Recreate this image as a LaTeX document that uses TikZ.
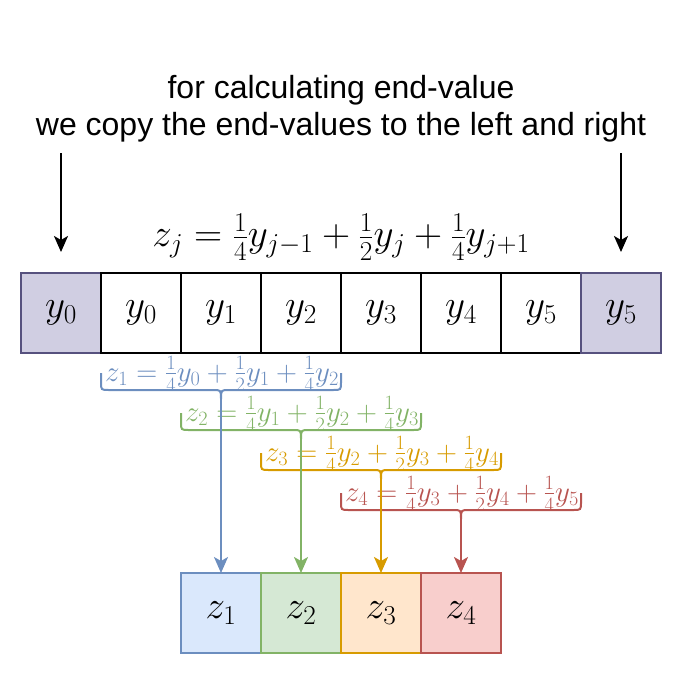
\documentclass[tikz,border=0pt]{standalone}
\usepackage{fix-cm}
\usepackage{amsmath}
\usepackage[no-math]{fontspec}
\setsansfont{Liberation Sans}
\usepackage{tikz}
\usetikzlibrary{positioning,arrows.meta}

\definecolor{endfill}{HTML}{D0CEE2}
\definecolor{enddraw}{HTML}{56517E}
\definecolor{zblue}{HTML}{6C8EBF}
\definecolor{zbluefill}{HTML}{DAE8FC}
\definecolor{zgreen}{HTML}{82B366}
\definecolor{zgreenfill}{HTML}{D5E8D4}
\definecolor{zorange}{HTML}{D79B00}
\definecolor{zorangefill}{HTML}{FFE6CC}
\definecolor{zred}{HTML}{B85450}
\definecolor{zredfill}{HTML}{F8CECC}

\tikzset{
  cell/.style={draw,minimum size=80pt,inner sep=0pt,outer sep=0pt,line width=1.5pt,
    font=\fontsize{39}{44}\selectfont},
  endcell/.style={cell,draw=enddraw,fill=endfill},
  brc/.style={line width=2pt},
  brclabel/.style={anchor=base west,inner sep=0pt,font=\fontsize{29}{33}\selectfont},
  arr/.style={-{Stealth[length=16pt,width=14pt,inset=4pt]},line width=2pt}
}

\begin{document}
\begin{tikzpicture}[x=1pt,y=-1pt]
    \useasboundingbox (0,0) rectangle (682,674);

    \node[font=\sffamily\fontsize{32}{37}\selectfont,align=center] (title) at (341,109)
        {for calculating end-value\\we copy the end-values to the left and right};
    \node[font=\fontsize{39}{44}\selectfont] (rule) at (341,237)
        {$z_j=\frac{1}{4}y_{j-1}+\frac{1}{2}y_j+\frac{1}{4}y_{j+1}$};

    % input row
    \node[endcell] (yl) at (61,313) {$y_0$};
    \node[cell,right=0pt of yl] (y0) {$y_0$};
    \node[cell,right=0pt of y0] (y1) {$y_1$};
    \node[cell,right=0pt of y1] (y2) {$y_2$};
    \node[cell,right=0pt of y2] (y3) {$y_3$};
    \node[cell,right=0pt of y3] (y4) {$y_4$};
    \node[cell,right=0pt of y4] (y5) {$y_5$};
    \node[endcell,right=0pt of y5] (yr) {$y_5$};

    \coordinate (al) at (61,153);
    \coordinate (alend) at (61,252);
    \coordinate (ar) at (621,153);
    \coordinate (arend) at (621,252);
    \draw[arr] (al)--(alend);
    \draw[arr] (ar)--(arend);

    % output row
    \node[cell,draw=zblue,fill=zbluefill] (z1) at (221,613) {$z_1$};
    \node[cell,draw=zgreen,fill=zgreenfill,right=0pt of z1] (z2) {$z_2$};
    \node[cell,draw=zorange,fill=zorangefill,right=0pt of z2] (z3) {$z_3$};
    \node[cell,draw=zred,fill=zredfill,right=0pt of z3] (z4) {$z_4$};

    % braces
    \draw[brc,zblue] (101,373)--(101,382) .. controls (101,390) .. (109,390)--(213,390)
        .. controls (221,390) .. (221,399) .. controls (221,390) .. (229,390)--(333,390)
        .. controls (341,390) .. (341,382)--(341,373);
    \coordinate (t1) at (221,399);
    \node[brclabel,zblue] (l1) at (105,381) {$z_1=\frac{1}{4}y_0+\frac{1}{2}y_1+\frac{1}{4}y_2$};

    \draw[brc,zgreen] (181,413)--(181,422) .. controls (181,430) .. (189,430)--(293,430)
        .. controls (301,430) .. (301,439) .. controls (301,430) .. (309,430)--(413,430)
        .. controls (421,430) .. (421,422)--(421,413);
    \coordinate (t2) at (301,439);
    \node[brclabel,zgreen] (l2) at (185,421) {$z_2=\frac{1}{4}y_1+\frac{1}{2}y_2+\frac{1}{4}y_3$};

    \draw[brc,zorange] (261,453)--(261,462) .. controls (261,470) .. (269,470)--(373,470)
        .. controls (381,470) .. (381,479) .. controls (381,470) .. (389,470)--(493,470)
        .. controls (501,470) .. (501,462)--(501,453);
    \coordinate (t3) at (381,479);
    \node[brclabel,zorange] (l3) at (265,461) {$z_3=\frac{1}{4}y_2+\frac{1}{2}y_3+\frac{1}{4}y_4$};

    \draw[brc,zred] (341,493)--(341,502) .. controls (341,510) .. (349,510)--(453,510)
        .. controls (461,510) .. (461,519) .. controls (461,510) .. (469,510)--(573,510)
        .. controls (581,510) .. (581,502)--(581,493);
    \coordinate (t4) at (461,519);
    \node[brclabel,zred] (l4) at (345,501) {$z_4=\frac{1}{4}y_3+\frac{1}{2}y_4+\frac{1}{4}y_5$};

    \draw[arr,zblue] (t1)--(z1);
    \draw[arr,zgreen] (t2)--(z2);
    \draw[arr,zorange] (t3)--(z3);
    \draw[arr,zred] (t4)--(z4);
\end{tikzpicture}
\end{document}
